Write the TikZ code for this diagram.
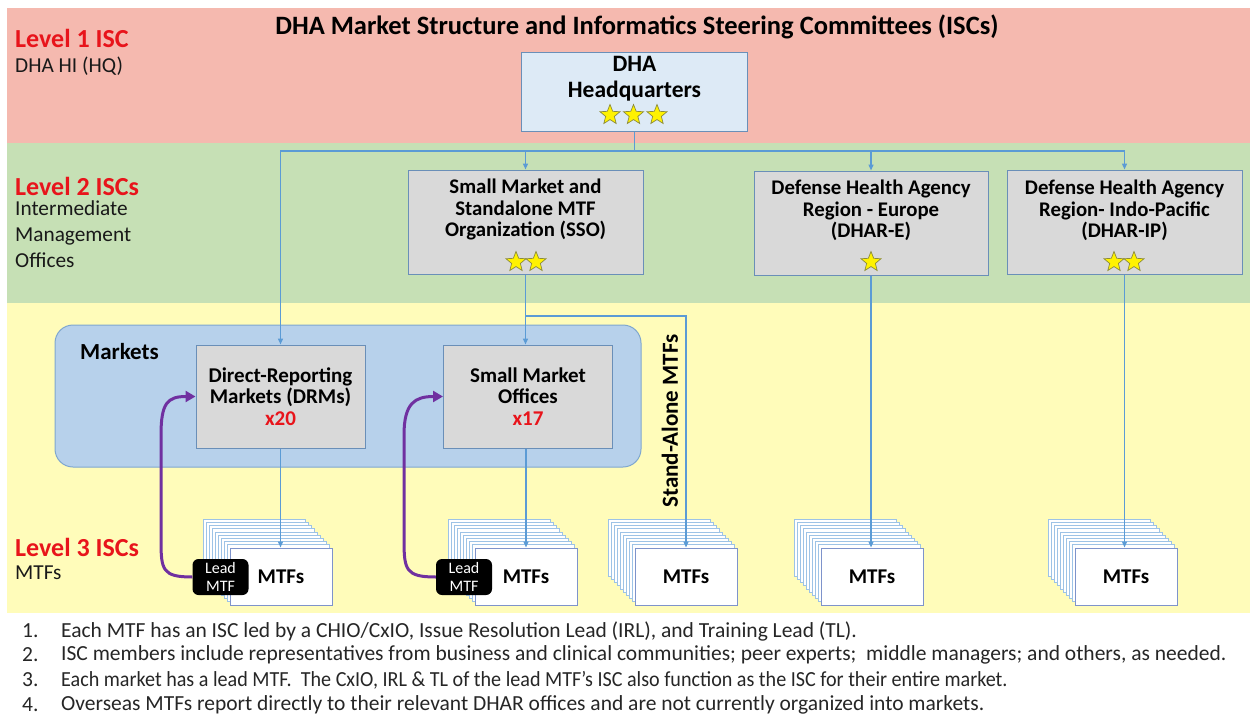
\documentclass[tikz,border=0pt]{standalone}
\usepackage{fontspec}
\usepackage{graphicx}
\setmainfont{Carlito}
\usetikzlibrary{shapes.geometric,arrows.meta,calc}
\definecolor{bandpink}{HTML}{F5B9AF}
\definecolor{bandgreen}{HTML}{C6E0B5}
\definecolor{bandyellow}{HTML}{FFFCBA}
\definecolor{mktfill}{HTML}{B7D1EB}
\definecolor{mktedge}{HTML}{7FA7CF}
\definecolor{boxgray}{HTML}{D9D9D9}
\definecolor{boxedge}{HTML}{6A8FB8}
\definecolor{hqfill}{HTML}{DDEAF6}
\definecolor{connblue}{HTML}{5B9BD5}
\definecolor{stackedge}{HTML}{9DC3E6}
\definecolor{lvlred}{HTML}{E8141B}
\definecolor{purp}{HTML}{7030A0}
\definecolor{starline}{HTML}{8C8C3A}
\tikzset{
  graybox/.style={draw=boxedge, line width=1pt, fill=boxgray, inner sep=0pt},
  boxtext/.style={anchor=north, align=center, font=\bfseries\fontsize{20.8}{21.5}\selectfont, inner sep=0pt},
  conn/.style={draw=connblue, line width=1.4pt, -{Triangle[length=6pt,width=5pt]}},
  connplain/.style={draw=connblue, line width=1.4pt},
  ystar/.style={star, star points=5, star point ratio=2.3, fill=yellow, draw=starline, line width=0.7pt, minimum size=21pt, inner sep=0pt},
  layer/.style={draw=stackedge, fill=white, line width=0.8pt},
  mtfbox/.style={draw=stackedge!80!blue!70!gray, fill=white, line width=1pt, minimum width=102pt, minimum height=57pt, inner sep=0pt, font=\bfseries\fontsize{21}{22}\selectfont},
  leadbox/.style={fill=black, rounded corners=6pt, minimum width=56pt, minimum height=36pt, inner sep=0pt, text=white, align=center, font=\fontsize{16}{17.5}\selectfont},
  purparrow/.style={draw=purp, line width=3pt, -{Triangle[length=10pt,width=11pt]}},
  lvl/.style={anchor=west, text=lvlred, font=\bfseries\fontsize{26}{28}\selectfont, inner sep=0pt},
  lvlsub/.style={anchor=west, align=left, font=\fontsize{21.3}{26}\selectfont, inner sep=0pt, text=black!90},
  note/.style={anchor=west, inner sep=0pt, font=\fontsize{21.5}{24}\selectfont, text=black!85},
}
\newcommand\mtfstack[2]{%
  \foreach \k in {9,...,1}{\draw[layer] ($(#2-51,548)+(-3*\k,-3.2*\k)$) rectangle +(102,57);}
  \node[mtfbox] (#1) at (#2,576.5) {MTFs};
}
\begin{document}
\begin{tikzpicture}[x=1pt,y=-1pt]
\useasboundingbox (0,0) rectangle (1250,717);
\fill[white] (0,0) rectangle (1250,717);
% bands
\fill[bandpink] (7,8) rectangle (1250,143);
\fill[bandgreen] (7,143) rectangle (1250,303);
\fill[bandyellow] (7,303) rectangle (1250,613);
% title
\node[font=\bfseries\fontsize{26.5}{28}\selectfont, inner sep=0pt] (title) at (637,27) {DHA Market Structure and Informatics Steering Committees (ISCs)};
% level labels
\node[lvl] (l1) at (15,38) {Level 1 ISC};
\node[lvlsub] (l1s) at (15,66) {DHA HI (HQ)};
\node[lvl] (l2) at (15,186) {Level 2 ISCs};
\node[lvlsub, anchor=north west] (l2s) at (15,201) {Intermediate\\Management\\Offices};
\node[lvl] (l3) at (15,547) {Level 3 ISCs};
\node[lvlsub] (l3s) at (15,573) {MTFs};
% HQ
\node[draw=boxedge, line width=1pt, fill=hqfill, minimum width=226pt, minimum height=78pt, inner sep=0pt] (hq) at (634.5,92) {};
\node[anchor=north, align=center, font=\bfseries\fontsize{23.5}{26}\selectfont, inner sep=0pt] (hqt) at (634.5,56) {DHA\\Headquarters};
\node[ystar] (hqs1) at (610,115) {};
\node[ystar] (hqs2) at (633.5,115) {};
\node[ystar] (hqs3) at (657,115) {};
% level 2 boxes
\node[graybox, minimum width=235pt, minimum height=104pt] (sso) at (525.5,222) {};
\node[boxtext] (ssot) at (525.5,179) {Small Market and\\Standalone MTF\\Organization (SSO)};
\node[ystar] (ssos1) at (516,262) {};
\node[ystar] (ssos2) at (536,262) {};
\node[graybox, minimum width=234pt, minimum height=104pt] (dhare) at (871,223) {};
\node[boxtext] (dharet) at (871,180) {Defense Health Agency\\Region - Europe\\(DHAR-E)};
\node[ystar] (dhares1) at (871,262) {};
\node[graybox, minimum width=235pt, minimum height=104pt] (dharip) at (1124.5,222) {};
\node[boxtext] (dhaript) at (1124.5,180) {Defense Health Agency\\Region- Indo-Pacific\\(DHAR-IP)};
\node[ystar] (dharips1) at (1114,262) {};
\node[ystar] (dharips2) at (1134,262) {};
% markets
\draw[fill=mktfill, draw=mktedge, line width=1pt, rounded corners=18pt] (55,325) rectangle (641,467);
\node[anchor=west, font=\bfseries\fontsize{23}{25}\selectfont, inner sep=0pt] (mkt) at (80,352) {Markets};
\node[graybox, minimum width=169pt, minimum height=103pt] (drm) at (280.5,396.5) {};
\node[align=center, font=\bfseries\fontsize{21}{21.5}\selectfont, inner sep=0pt] (drmt) at (280.5,396.5) {Direct-Reporting\\Markets (DRMs)\\\textcolor{lvlred}{x20}};
\node[graybox, minimum width=169pt, minimum height=103pt] (smo) at (528,396.5) {};
\node[align=center, font=\bfseries\fontsize{21}{21.5}\selectfont, inner sep=0pt] (smot) at (528,396.5) {Small Market\\Offices\\\textcolor{lvlred}{x17}};
% stand-alone label
\node[rotate=90, font=\bfseries\fontsize{23}{25}\selectfont, inner sep=0pt] (salabel) at (670,421) {Stand-Alone MTFs};
% MTF stacks
\mtfstack{mtfA}{281}
\mtfstack{mtfB}{526}
\mtfstack{mtfC}{686}
\mtfstack{mtfD}{872}
\mtfstack{mtfE}{1126}
\node[leadbox] (leadA) at (220.5,577) {Lead\\MTF};
\node[leadbox] (leadB) at (464,577) {Lead\\MTF};
% connectors
\coordinate (bus) at (634.5,151);
\draw[connplain] (hq.south) -- (bus);
\draw[conn] (bus) -| (drm.north);
\draw[conn] (bus) -| (sso.north);
\draw[conn] (bus) -| (dhare.north);
\draw[conn] (bus) -| (dharip.north);
\draw[conn] (sso.south) -- (sso.south |- smo.north);
\coordinate (branch) at (525.5,316);
\draw[conn] (branch) -| (mtfC.north);
\draw[conn] (drm.south) -- (drm.south |- mtfA.north);
\draw[conn] (smo.south -| mtfB.north) -- (mtfB.north);
\draw[conn] (dhare.south) -- (dhare.south |- mtfD.north);
\draw[conn] (dharip.south) -- (dharip.south |- mtfE.north);
% purple arrows
\draw[purparrow] (leadA.west) .. controls +(-30,0) and +(0,30) .. (161,540) -- (161,435) .. controls +(0,-32) and +(-28,0) .. (drm.west);
\draw[purparrow] (leadB.west) .. controls +(-30,0) and +(0,30) .. (404,540) -- (404,435) .. controls +(0,-32) and +(-28,0) .. (smo.west);
% notes
\node[note] (n1) at (22,631) {1.};
\node[note] (t1) at (61,631) {Each MTF has an ISC led by a CHIO/CxIO, Issue Resolution Lead (IRL), and Training Lead (TL).};
\node[note] (n2) at (22,655) {2.};
\node[note] (t2) at (61,655) {ISC members include representatives from business and clinical communities; peer experts;\ \ middle managers; and others, as needed.};
\node[note] (n3) at (22,680) {3.};
\node[note] (t3) at (61,680) {\scalebox{0.935}[1]{Each market has a lead MTF.\ \ The CxIO, IRL \& TL of the lead MTF’s ISC also function as the ISC for their entire market.}};
\node[note] (n4) at (22,705) {4.};
\node[note] (t4) at (61,705) {Overseas MTFs report directly to their relevant DHAR offices and are not currently organized into markets.};
\end{tikzpicture}
\end{document}
